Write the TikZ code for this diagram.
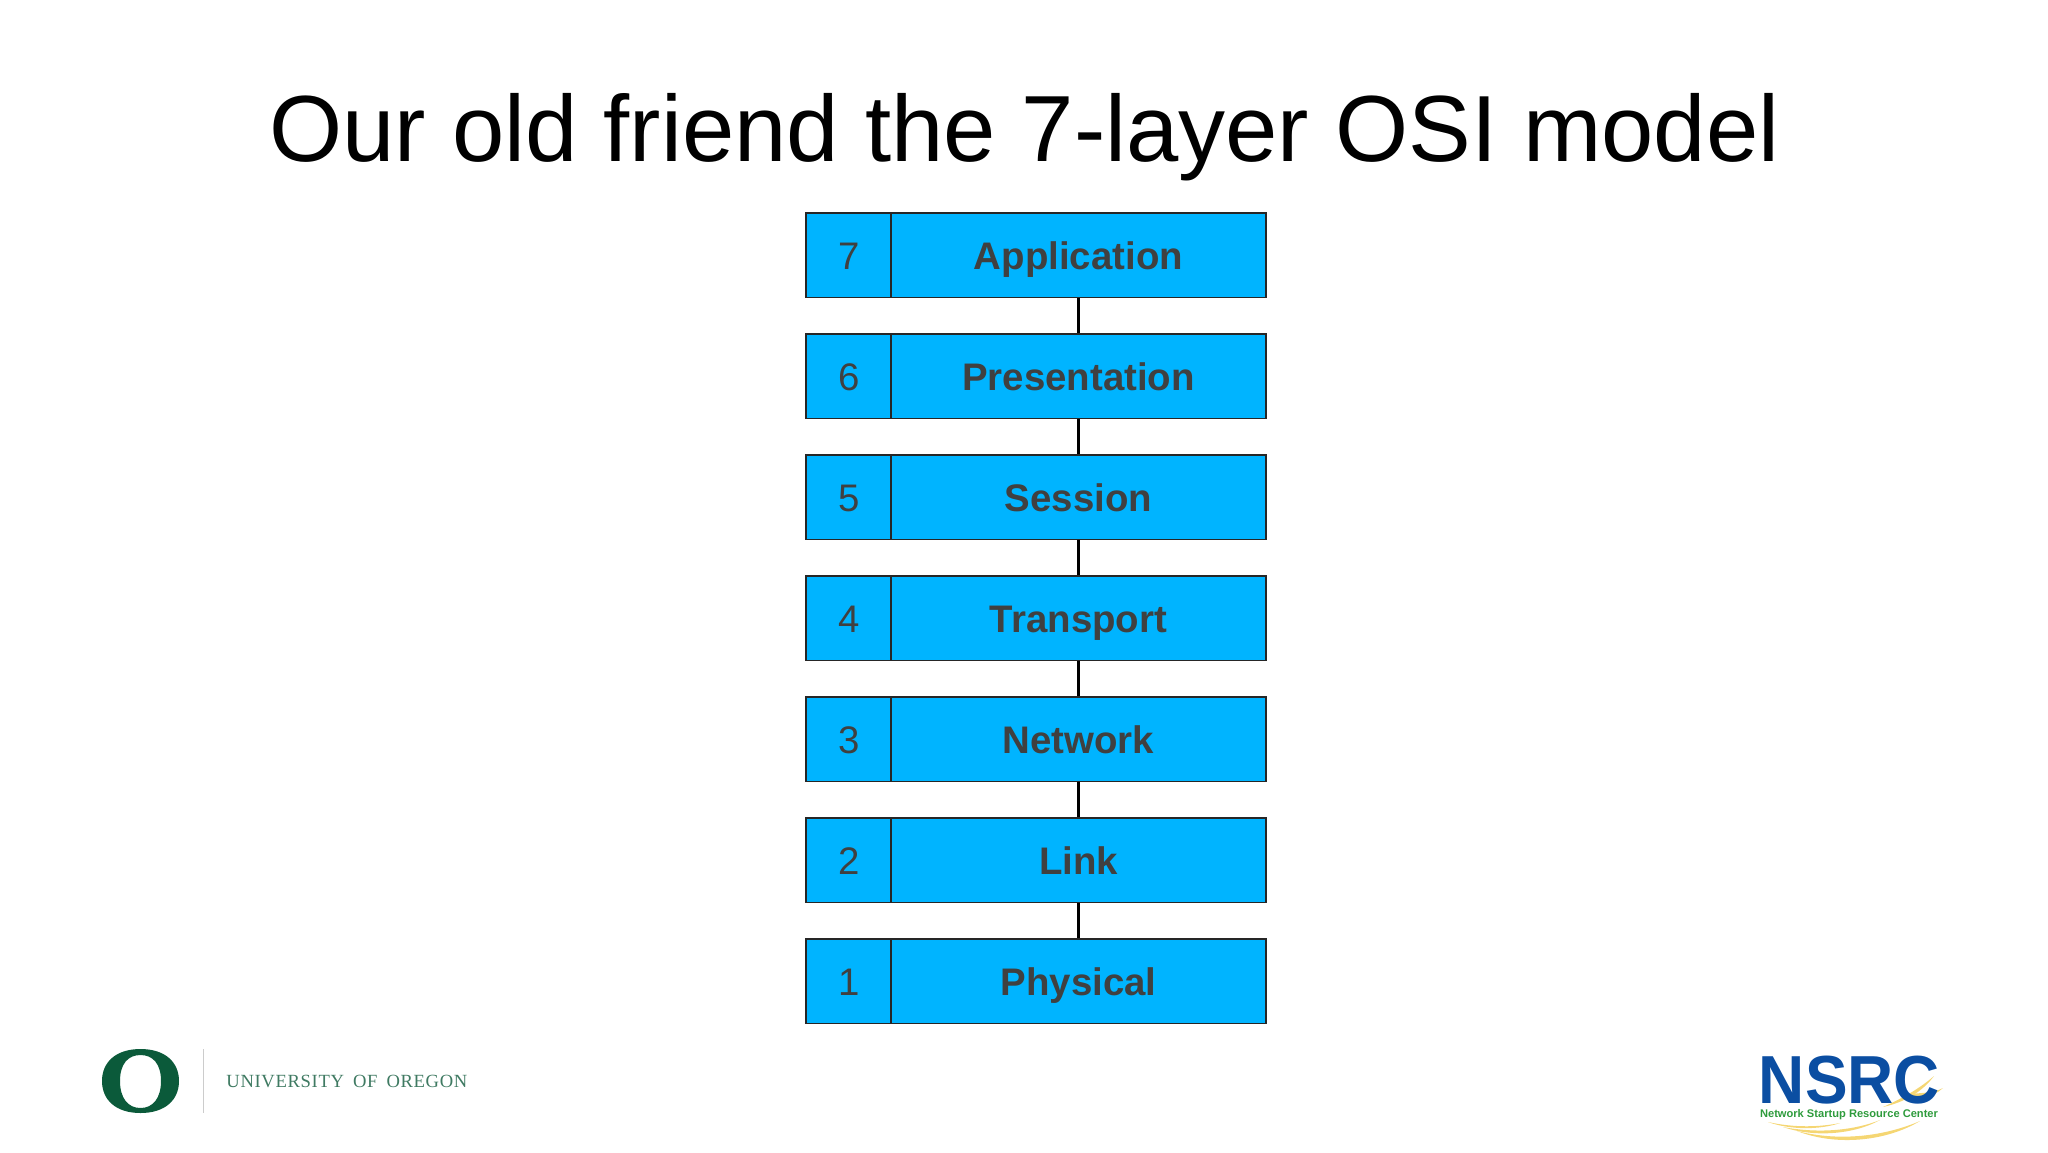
\documentclass[tikz,border=0pt]{standalone}
\usepackage{fontspec}
\setmainfont{Liberation Sans}
\newfontfamily\serifface[LetterSpace=3.6,WordSpace=1.7]{Liberation Serif}
\definecolor{layerblue}{HTML}{00B4FF}
\definecolor{labelgrey}{HTML}{404040}
\definecolor{uogreen}{HTML}{0B5A3A}
\definecolor{uotext}{HTML}{3F7A62}
\definecolor{nsrcblue}{HTML}{0B4EA2}
\definecolor{nsrcgreen}{HTML}{2E9B3C}
\definecolor{swoosh}{HTML}{F5D673}
\tikzset{
  x=0.5pt,y=-0.5pt,
  basebox/.style={draw=black!85,line width=0.8pt,fill=layerblue,inner sep=0pt,minimum height=42.2pt,text=labelgrey,text height=14.6pt,text depth=0pt},
  numbox/.style={basebox,minimum width=42.5pt,font=\fontsize{19.2}{19.2}\selectfont},
  namebox/.style={basebox,minimum width=187.5pt,font=\fontsize{19.2}{19.2}\selectfont\bfseries},
  link/.style={draw=black,line width=1.5pt},
  swooshfill/.style={fill=swoosh,draw=none},
}
\begin{document}
\begin{tikzpicture}
\useasboundingbox (0,0) rectangle (2048,1152);
\node[font=\fontsize{47}{47}\selectfont,text=black,anchor=base] (title) at (1024.5,161.5) {Our old friend the 7-layer OSI model};
\foreach \n/\lab [count=\i from 0] in {7/Application,6/Presentation,5/Session,4/Transport,3/Network,2/Link,1/Physical}{
  \pgfmathsetmacro{\yy}{255.3+121.0*\i}
  \node[numbox] (num\n) at (848.5,\yy) {\hspace{1pt}\n};
  \node[namebox] (name\n) at (1078.5,\yy) {\lab};
}
\foreach \a/\b in {7/6,6/5,5/4,4/3,3/2,2/1}{
  \draw[link] (name\a.south) -- (name\b.north);
}
% University of Oregon logo
\fill[uogreen,even odd rule]
  (140.5,1049) .. controls (165,1049) and (179,1062) .. (179,1081)
  .. controls (179,1100) and (165,1113) .. (140.5,1113)
  .. controls (116,1113) and (102,1100) .. (102,1081)
  .. controls (102,1062) and (116,1049) .. (140.5,1049) -- cycle
  (140.5,1055) .. controls (153,1055) and (161,1064) .. (161,1081)
  .. controls (161,1098) and (153,1108) .. (140.5,1108)
  .. controls (128,1108) and (120,1098) .. (120,1081)
  .. controls (120,1064) and (128,1055) .. (140.5,1055) -- cycle;
\draw[black!20,line width=0.5pt] (203.5,1049) -- (203.5,1113);
\node[font=\serifface\fontsize{9.3}{9.3}\selectfont,text=uotext,anchor=base west,inner sep=0pt] (uo) at (226,1087) {UNIVERSITY OF OREGON};
% NSRC logo
\fill[swooshfill] (1768,1122) .. controls (1795,1128) and (1820,1127) .. (1840,1123) .. controls (1820,1130) and (1790,1130) .. (1768,1122) -- cycle;
\fill[swooshfill] (1783,1127) .. controls (1820,1134) and (1855,1130) .. (1880,1120) .. controls (1855,1134) and (1815,1138) .. (1783,1127) -- cycle;
\fill[swooshfill] (1797,1131) .. controls (1840,1142) and (1885,1136) .. (1920,1121) .. controls (1885,1142) and (1835,1146) .. (1797,1131) -- cycle;
\fill[swooshfill] (1883,1107) .. controls (1905,1097) and (1920,1088) .. (1934,1076) .. controls (1922,1092) and (1905,1102) .. (1883,1107) -- cycle;
\fill[swooshfill] (1906,1095) .. controls (1920,1092) and (1932,1094) .. (1943,1088) .. controls (1932,1098) and (1920,1098) .. (1906,1095) -- cycle;
\node[font=\fontsize{34}{34}\selectfont\bfseries,text=nsrcblue,anchor=base,inner sep=0pt,xscale=0.94] (nsrc) at (1849.5,1103) {NSRC};
\node[font=\fontsize{5.56}{5.56}\selectfont\bfseries,text=nsrcgreen,anchor=base,inner sep=0pt] (nsrcsub) at (1849,1117) {Network Startup Resource Center};
\end{tikzpicture}
\end{document}
